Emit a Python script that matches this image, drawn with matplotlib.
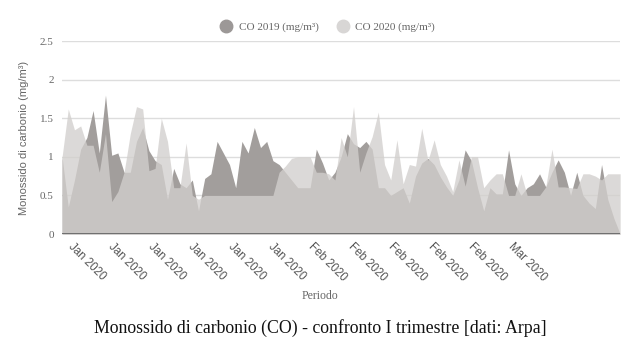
import numpy as np
import matplotlib
matplotlib.use("Agg")
import matplotlib.pyplot as plt
from matplotlib.lines import Line2D

# valori giornalieri (I trimestre)
co_2019 = [1.0, 0.35, 0.7, 1.1, 1.25, 1.6, 1.05, 1.8, 1.02, 1.05,
           0.8, 0.8, 1.2, 1.38, 1.08, 0.95, 0.9, 0.45, 0.85, 0.65,
           0.6, 0.7, 0.3, 0.72, 0.78, 1.2, 1.05, 0.9, 0.6, 1.2,
           1.05, 1.38, 1.12, 1.2, 0.95, 0.9, 0.8, 0.7, 0.6, 0.6,
           0.6, 1.1, 0.92, 0.7, 0.8, 1.0, 1.3, 1.17, 1.12, 1.2,
           1.1, 0.6, 0.6, 0.5, 0.55, 0.6, 0.4, 0.75, 0.92, 0.98,
           0.9, 0.74, 0.61, 0.5, 0.7, 1.09, 0.95, 0.6, 0.3, 0.6,
           0.52, 0.52, 1.09, 0.65, 0.5, 0.6, 0.65, 0.78, 0.61, 0.8,
           0.96, 0.8, 0.5, 0.8, 0.5, 0.4, 0.33, 0.9, 0.45, 0.2,
           0.0]
co_2020 = [1.0, 1.62, 1.35, 1.4, 1.15, 1.15, 0.8, 1.3, 0.42, 0.55,
           0.8, 1.3, 1.65, 1.62, 0.82, 0.85, 1.5, 1.2, 0.6, 0.6,
           1.18, 0.5, 0.45, 0.5, 0.5, 0.5, 0.5, 0.5, 0.5, 0.5,
           0.5, 0.5, 0.5, 0.5, 0.5, 0.8, 0.88, 0.98, 1.0, 1.0,
           1.0, 0.8, 0.8, 0.78, 0.7, 1.25, 1.0, 1.65, 0.8, 1.05,
           1.26, 1.58, 0.9, 0.7, 1.22, 0.65, 0.9, 0.88, 1.37, 0.95,
           1.22, 0.9, 0.75, 0.55, 0.96, 0.62, 1.0, 1.0, 0.6, 0.7,
           0.78, 0.78, 0.5, 0.5, 0.78, 0.5, 0.5, 0.5, 0.61, 1.1,
           0.61, 0.61, 0.6, 0.59, 0.78, 0.78, 0.75, 0.7, 0.78, 0.78,
           0.78]
tick_labels = ["Jan 2020"] * 6 + ["Feb 2020"] * 5 + ["Mar 2020"]
tick_pos = [1.3 + 6.45 * k for k in range(len(tick_labels))]

days = np.arange(len(co_2019))

fig = plt.figure(figsize=(6.4, 3.6), dpi=100)
ax = fig.add_axes([0.097, 0.35, 0.872, 0.536])

ax.fill_between(days, co_2019, color="#a29e9c", linewidth=0, zorder=2)
ax.fill_between(days, co_2020, color="#d2cfcd", alpha=0.78, linewidth=0, zorder=3)

ax.set_xlim(0, days[-1])
ax.set_ylim(0, 2.5)
ax.set_yticks([0, 0.5, 1, 1.5, 2, 2.5])
ax.set_yticklabels(["0", "0.5", "1", "1.5", "2", "2.5"], family="Liberation Serif",
                   fontsize=8, color="#666666")
ax.grid(axis="y", color="#dddddd", linewidth=1, zorder=0)
ax.axhline(0, color="#666666", linewidth=2, zorder=4)
for s in ax.spines.values():
    s.set_visible(False)
ax.tick_params(axis="both", length=0)
ax.tick_params(axis="y", pad=6)

ax.set_xticks(tick_pos)
ax.set_xticklabels(tick_labels, rotation=-45, ha="left", va="center",
                   rotation_mode="anchor", family="Liberation Sans",
                   fontsize=8.3, color="#555555")
ax.tick_params(axis="x", pad=8)

ax.set_ylabel("Monossido di carbonio (mg/m³)", family="Liberation Sans",
              fontsize=8, color="#666666", labelpad=8)

fig.text(0.5, 0.178, "Periodo", ha="center", va="center",
         family="Liberation Serif", fontsize=8.5, color="#666666")
fig.text(0.5, 0.088, "Monossido di carbonio (CO) - confronto I trimestre [dati: Arpa]",
         ha="center", va="center", family="Liberation Serif", fontsize=12.8, color="#111111")

handles = [Line2D([], [], marker="o", linestyle="", markersize=9, color="#9c9897"),
           Line2D([], [], marker="o", linestyle="", markersize=9, color="#d8d6d5")]
fig.legend(handles, ["CO 2019 (mg/m³)", "CO 2020 (mg/m³)"], loc="center",
           bbox_to_anchor=(0.508, 0.925), ncol=2, frameon=False, handletextpad=0.1,
           columnspacing=1.2, prop={"family": "Liberation Serif", "size": 8},
           labelcolor="#666666")

fig.savefig("out.png", dpi=100, facecolor="white")
